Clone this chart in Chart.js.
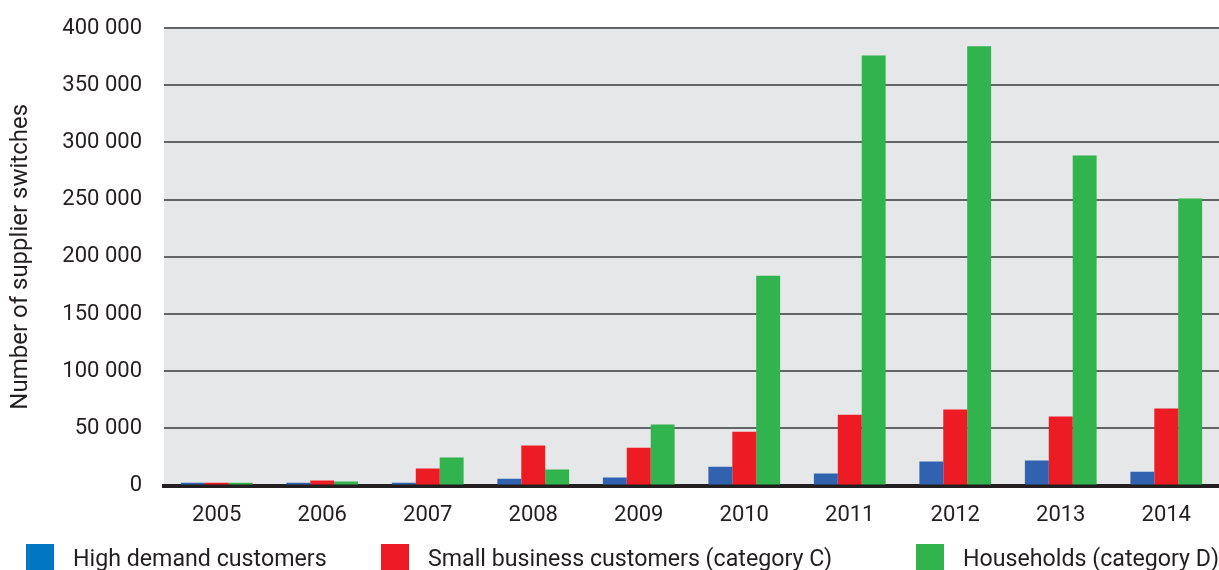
<!DOCTYPE html>
<html>
<head>
<meta charset="utf-8">
<script src="https://cdn.jsdelivr.net/npm/chart.js@4/dist/chart.umd.min.js"></script>
<style>
  html, body { margin: 0; padding: 0; background: #fff; }
  #wrap { position: relative; width: 1219px; height: 570px; overflow: hidden; }
  #legend { position: absolute; left: 0; top: 544px; width: 1219px; height: 30px;
            font-family: Roboto, sans-serif; font-size: 23.2px; color: #231f20; }
  .item { position: absolute; top: 0; display: flex; align-items: flex-start; white-space: nowrap; }
  .box { width: 28px; height: 28px; margin-right: 19px; }
  .txt { line-height: 28px; }
</style>
</head>
<body>
<div id="wrap">
  <canvas id="grafico_barras" width="1219" height="570"></canvas>
  <div id="legend"></div>
</div>
<script>
const years = ['2005','2006','2007','2008','2009','2010','2011','2012','2013','2014']

// switches per year, by customer group
const highDemand = [2500, 2500, 2500, 6000, 7000, 16500, 10500, 21000, 22000, 12000]
const smallBusiness = [2500, 4500, 15000, 35000, 33000, 47000, 62000, 66500, 60500, 67500]
const households = [2500, 3500, 24500, 14000, 53500, 183500, 376000, 384000, 288500, 251000]

const seriesNames = ['High demand customers', 'Small business customers (category C)', 'Households (category D)']
const yTicks = [0, 50000, 100000, 150000, 200000, 250000, 300000, 350000, 400000]

const barColors = ['#3162b0', '#ed1c24', '#31b34d']
const legendColors = ['#0077c0', '#ed1c24', '#31b34d']
const legendX = [26, 381, 916]

Chart.defaults.font.family = 'Roboto, sans-serif'
Chart.defaults.font.size = 22
Chart.defaults.color = '#231f20'

// grey plotting background
const plotBg = {
  id: 'plotBg',
  beforeDraw(chart) {
    const { ctx, chartArea: a } = chart
    ctx.save()
    ctx.fillStyle = '#e6e7e8'
    ctx.fillRect(a.left, a.top, a.right - a.left, a.bottom - a.top)
    ctx.restore()
  }
}

const data = {
  labels: years,
  datasets: [highDemand, smallBusiness, households].map((vals, i) => ({
    label: seriesNames[i],
    data: vals,
    backgroundColor: barColors[i],
    borderWidth: 0,
    categoryPercentage: 0.68,
    barPercentage: 1.0
  }))
}

const config = {
  type: 'bar',
  data,
  plugins: [plotBg],
  options: {
    responsive: false,
    animation: false,
    // plot runs slightly past the right edge of the canvas
    layout: { padding: { top: 28, right: -5, bottom: 32, left: 0 } },
    plugins: { legend: { display: false }, tooltip: { enabled: false } },
    scales: {
      x: {
        grid: { display: false },
        border: { display: true, color: '#231f20', width: 4 },
        ticks: { padding: 9 }
      },
      y: {
        min: 0,
        max: 400000,
        afterFit(scale) {
          scale.width = 164
          // tick padding should not push the plot area down
          scale.paddingTop = 10
          scale.paddingBottom = 10
        },
        afterBuildTicks(scale) { scale.ticks = yTicks.map(v => ({ value: v })) },
        border: { display: false },
        grid: { color: '#636466', lineWidth: 2, drawTicks: false },
        ticks: {
          padding: 22,
          callback: v => v === 0 ? '0' : String(v / 1000) + ' 000'
        },
        title: {
          display: true,
          text: 'Number of supplier switches',
          font: { size: 24 },
          padding: { top: 7, bottom: 0 }
        }
      }
    }
  }
}

const graph = new Chart(document.getElementById('grafico_barras'), config)

// legend built from the series names
const legend = document.getElementById('legend')
seriesNames.forEach((name, i) => {
  const item = document.createElement('div')
  item.className = 'item'
  item.style.left = legendX[i] + 'px'
  item.innerHTML = '<div class="box" style="background:' + legendColors[i] + '"></div><div class="txt">' + name + '</div>'
  legend.appendChild(item)
})
</script>
</body>
</html>
